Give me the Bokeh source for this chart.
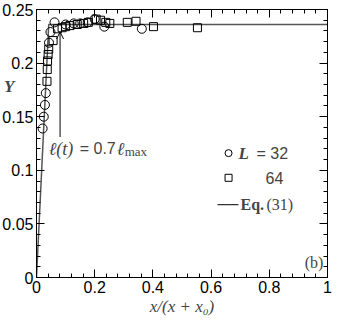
from bokeh.plotting import figure
from bokeh.models import (LinearAxis, FixedTicker, CustomJSTickFormatter, Label,
                          Arrow, OpenHead, Range1d)
from bokeh.embed import file_html
from bokeh.resources import INLINE

# ---- data ----
L32_x = [0.021, 0.025, 0.029, 0.032, 0.043, 0.048, 0.062, 0.100, 0.128, 0.150,
         0.176, 0.200, 0.233, 0.362]
L32_y = [0.139, 0.150, 0.161, 0.172, 0.219, 0.229, 0.238, 0.236, 0.237, 0.237,
         0.238, 0.241, 0.234, 0.232]

L64_x = [0.036, 0.037, 0.038, 0.040, 0.042, 0.057, 0.072, 0.088, 0.100, 0.115,
         0.140, 0.162, 0.178, 0.205, 0.220, 0.238, 0.252, 0.312, 0.342, 0.402, 0.553]
L64_y = [0.183, 0.194, 0.202, 0.208, 0.213, 0.221, 0.232, 0.233, 0.234, 0.235,
         0.236, 0.237, 0.238, 0.241, 0.240, 0.238, 0.237, 0.238, 0.239, 0.234, 0.233]

eq_x = [0.0, 0.042, 1.0]
eq_y = [0.0, 0.236, 0.236]

x_ticks = [0, 0.2, 0.4, 0.6, 0.8, 1.0]
y_ticks = [0, 0.05, 0.1, 0.15, 0.2, 0.25]

p = figure(width=332, height=318, x_range=Range1d(0, 1), y_range=Range1d(0, 0.25),
           output_backend="svg", toolbar_location=None,
           min_border_left=36, min_border_right=5, min_border_top=9,
           min_border_bottom=35)
p.xgrid.visible = False
p.ygrid.visible = False
p.outline_line_color = "black"
p.outline_line_width = 1

x_minor = [round(0.04 * i, 4) for i in range(26)]
y_minor = [round(0.01 * i, 4) for i in range(26)]
fmt = CustomJSTickFormatter(code="return String(Math.round(tick*100)/100);")
blank = CustomJSTickFormatter(code="return '';")


def style(ax, labels=True):
    ax.axis_line_color = "black"
    ax.major_tick_in = 8
    ax.major_tick_out = 0
    ax.minor_tick_in = 4
    ax.minor_tick_out = 0
    ax.major_tick_line_color = "black"
    ax.minor_tick_line_color = "black"
    if labels:
        ax.major_label_text_font = "Liberation Sans"
        ax.major_label_text_font_size = "16px"
        ax.major_label_text_color = "black"
        ax.major_label_standoff = 3
    else:
        ax.formatter = blank
        ax.major_label_standoff = 0


p.xaxis.ticker = FixedTicker(ticks=x_ticks, minor_ticks=x_minor)
p.yaxis.ticker = FixedTicker(ticks=y_ticks, minor_ticks=y_minor)
p.xaxis.formatter = fmt
p.yaxis.formatter = fmt
style(p.xaxis[0])
style(p.yaxis[0])

# axis titles
p.xaxis.axis_label = "x/(x + x₀)"
p.xaxis.axis_label_text_font = "Liberation Serif"
p.xaxis.axis_label_text_font_style = "italic"
p.xaxis.axis_label_text_font_size = "17px"
p.xaxis.axis_label_standoff = 1

p.yaxis.axis_label = "Y\n\n\n\n\n"
p.yaxis.axis_label_orientation = "horizontal"
p.yaxis.axis_label_text_font = "Liberation Serif"
p.yaxis.axis_label_text_font_style = "bold italic"
p.yaxis.axis_label_text_font_size = "17px"
p.yaxis.axis_label_standoff = -15

top = LinearAxis(ticker=FixedTicker(ticks=x_ticks, minor_ticks=x_minor))
right = LinearAxis(ticker=FixedTicker(ticks=y_ticks, minor_ticks=y_minor))
style(top, False)
style(right, False)
p.add_layout(top, "above")
p.add_layout(right, "right")

# Eq. (31) line
p.line(eq_x, eq_y, line_color="#555555", line_width=1.5)

# data markers
p.scatter(L32_x, L32_y, marker="circle", size=9, fill_color=None,
          line_color="black", line_width=1)
p.scatter(L64_x, L64_y, marker="square", size=8, fill_color=None,
          line_color="black", line_width=1)

# arrow and its annotation
p.add_layout(Arrow(end=OpenHead(size=7, line_width=1, line_color="black"),
                   x_start=0.081, y_start=0.131, x_end=0.081, y_end=0.229,
                   line_width=1, line_color="black"))

ann_x, ann_y = 0.042, 0.120
serif = "Liberation Serif"
p.add_layout(Label(x=ann_x, y=ann_y, text="ℓ(t)", text_font=serif,
                   text_font_style="italic", text_font_size="18px",
                   text_baseline="alphabetic"))
p.add_layout(Label(x=ann_x, y=ann_y, x_offset=31, text="= 0.7",
                   text_font="Liberation Sans", text_font_size="16px",
                   text_baseline="alphabetic"))
p.add_layout(Label(x=ann_x, y=ann_y, x_offset=68, text="ℓ", text_font=serif,
                   text_font_style="italic", text_font_size="18px",
                   text_baseline="alphabetic"))
p.add_layout(Label(x=ann_x, y=ann_y, x_offset=76, y_offset=-3, text="max",
                   text_font=serif, text_font_size="13px",
                   text_baseline="alphabetic"))

# legend (manual)
leg_x = 0.66
p.scatter([leg_x], [0.116], marker="circle", size=7, fill_color=None,
          line_color="black")
p.scatter([leg_x], [0.093], marker="square", size=7, fill_color=None,
          line_color="black")
p.line([0.622, 0.694], [0.068, 0.068], line_color="#333333", line_width=1.2)
p.add_layout(Label(x=leg_x, y=0.116, x_offset=10, text="L", text_font=serif,
                   text_font_style="bold italic", text_font_size="17px",
                   text_baseline="middle"))
p.add_layout(Label(x=leg_x, y=0.116, x_offset=28, text="= 32",
                   text_font="Liberation Sans", text_font_size="16px",
                   text_baseline="middle"))
p.add_layout(Label(x=leg_x, y=0.093, x_offset=37, text="64",
                   text_font="Liberation Sans", text_font_size="16px",
                   text_baseline="middle"))
p.add_layout(Label(x=0.694, y=0.068, x_offset=2, text="Eq.", text_font=serif,
                   text_font_style="bold", text_font_size="16px",
                   text_baseline="middle"))
p.add_layout(Label(x=0.694, y=0.068, x_offset=28, text="(31)", text_font=serif,
                   text_font_size="16px", text_baseline="middle"))
p.add_layout(Label(x=0.986, y=0.0136, text="(b)", text_font=serif,
                   text_font_size="16px", text_align="right",
                   text_baseline="middle"))

open("out.html", "w").write(file_html(p, INLINE))
